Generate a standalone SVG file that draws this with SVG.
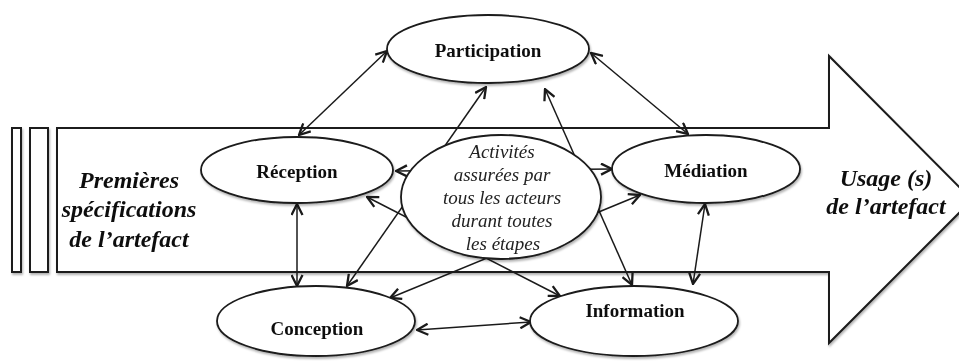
<svg xmlns="http://www.w3.org/2000/svg" width="959" height="363" viewBox="0 0 959 363">
<style>
.shape{fill:#fff;stroke:#1a1a1a;stroke-width:2}
.node{fill:#fff;stroke:#1a1a1a;stroke-width:1.8}
.conn{fill:none;stroke:#1a1a1a;stroke-width:1.5}
.lbl{font-family:"Liberation Serif","Times New Roman",serif;font-weight:bold;font-size:19px;fill:#111;text-anchor:middle}
.ctr{font-family:"Liberation Serif","Times New Roman",serif;font-style:italic;font-size:19px;fill:#222;text-anchor:middle}
.side{font-family:"Liberation Serif","Times New Roman",serif;font-weight:bold;font-style:italic;font-size:24px;fill:#111;text-anchor:middle}
</style>
<defs>
<marker id="ah" viewBox="0 0 13 13" refX="12" refY="6.5" markerWidth="13" markerHeight="13" markerUnits="userSpaceOnUse" orient="auto-start-reverse">
<path d="M1,1 L12,6.5 L1,12" fill="none" stroke="#1a1a1a" stroke-width="2.3"/>
</marker>
<filter id="sh" x="-10%" y="-10%" width="120%" height="130%">
<feDropShadow dx="1" dy="2" stdDeviation="1.2" flood-color="#000" flood-opacity="0.3"/>
</filter>
</defs>
<rect width="959" height="363" fill="#fff"/>
<g id="bigarrow" filter="url(#sh)">
<rect class="shape" x="12" y="128" width="9" height="144"/>
<rect class="shape" x="30" y="128" width="18" height="144"/>
<polygon class="shape" points="57,128 829,128 829,56 972,200 829,343 829,272 57,272"/>
<text class="side" x="129" y="188">Premières</text>
<text class="side" x="129" y="217">spécifications</text>
<text class="side" x="129" y="247">de l’artefact</text>
<text class="side" x="886" y="186">Usage (s)</text>
<text class="side" x="886" y="214">de l’artefact</text>
</g>
<g id="connectors">
<line class="conn" x1="387" y1="51" x2="299" y2="135" marker-start="url(#ah)" marker-end="url(#ah)"/>
<line class="conn" x1="591" y1="53" x2="688" y2="134" marker-start="url(#ah)" marker-end="url(#ah)"/>
<line class="conn" x1="486" y1="87" x2="347" y2="286" marker-start="url(#ah)" marker-end="url(#ah)"/>
<line class="conn" x1="545" y1="89" x2="632" y2="285" marker-start="url(#ah)" marker-end="url(#ah)"/>
<line class="conn" x1="367" y1="197" x2="560" y2="296" marker-start="url(#ah)" marker-end="url(#ah)"/>
<line class="conn" x1="390" y1="298" x2="640" y2="195" marker-start="url(#ah)" marker-end="url(#ah)"/>
<line class="conn" x1="396" y1="171" x2="612" y2="169" marker-start="url(#ah)" marker-end="url(#ah)"/>
<line class="conn" x1="297" y1="204" x2="297" y2="286" marker-start="url(#ah)" marker-end="url(#ah)"/>
<line class="conn" x1="417" y1="330" x2="531" y2="322" marker-start="url(#ah)" marker-end="url(#ah)"/>
<line class="conn" x1="705" y1="204" x2="693" y2="284" marker-start="url(#ah)" marker-end="url(#ah)"/>
</g>
<g id="participation" filter="url(#sh)">
<ellipse class="node" cx="488" cy="49" rx="101" ry="34"/>
<text class="lbl" x="488" y="57">Participation</text>
</g>
<g id="reception" filter="url(#sh)">
<ellipse class="node" cx="297" cy="170" rx="96" ry="33"/>
<text class="lbl" x="297" y="178">Réception</text>
</g>
<g id="mediation" filter="url(#sh)">
<ellipse class="node" cx="706" cy="169" rx="94" ry="34"/>
<text class="lbl" x="706" y="177">Médiation</text>
</g>
<g id="activites" filter="url(#sh)">
<ellipse class="node" cx="501" cy="197" rx="100" ry="62"/>
<text class="ctr" x="502" y="158">Activités</text>
<text class="ctr" x="502" y="181">assurées par</text>
<text class="ctr" x="502" y="204">tous les acteurs</text>
<text class="ctr" x="502" y="227">durant toutes</text>
<text class="ctr" x="503" y="250">les étapes</text>
</g>
<g id="conception" filter="url(#sh)">
<ellipse class="node" cx="316" cy="321" rx="99" ry="35"/>
<text class="lbl" x="317" y="335">Conception</text>
</g>
<g id="information" filter="url(#sh)">
<ellipse class="node" cx="634" cy="321" rx="104" ry="35"/>
<text class="lbl" x="635" y="317">Information</text>
</g>
</svg>
